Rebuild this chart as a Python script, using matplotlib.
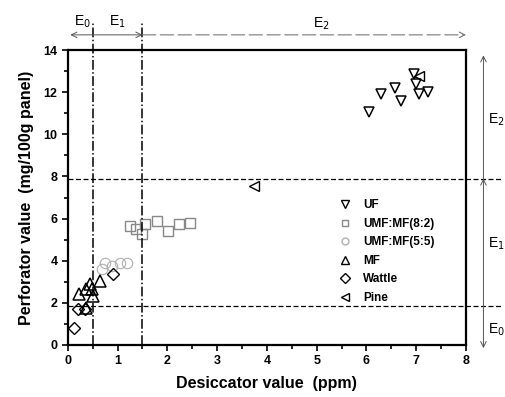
import matplotlib
matplotlib.use("Agg")
import matplotlib.pyplot as plt
from matplotlib.lines import Line2D

plt.rcParams['font.family'] = ['Liberation Sans', 'DejaVu Sans']

# data
uf_x = [6.05, 6.3, 6.57, 6.69, 6.96, 7.0, 7.06, 7.23]
uf_y = [11.05, 11.9, 12.2, 11.6, 12.85, 12.4, 11.9, 12.0]

umf82_x = [1.25, 1.37, 1.5, 1.55, 1.8, 2.02, 2.23, 2.45]
umf82_y = [5.65, 5.5, 5.25, 5.76, 5.9, 5.4, 5.73, 5.8]

umf55_x = [0.68, 0.74, 0.88, 1.05, 1.18]
umf55_y = [3.6, 3.9, 3.75, 3.9, 3.9]

mf_x = [0.23, 0.36, 0.44, 0.48, 0.51, 0.64, 0.36]
mf_y = [2.42, 2.64, 2.88, 2.64, 2.33, 3.04, 1.75]

wattle_x = [0.12, 0.21, 0.34, 0.91]
wattle_y = [0.82, 1.7, 1.7, 3.36]

pine_x = [3.75, 7.05]
pine_y = [7.55, 12.75]

names = ['UF', 'UMF:MF(8:2)', 'UMF:MF(5:5)', 'MF', 'Wattle', 'Pine']

x_bounds = [0.5, 1.5]
y_bounds = [1.85, 7.9]

fig = plt.figure(figsize=(5.06, 3.97), dpi=100)
ax = fig.add_axes([0.134, 0.131, 0.787, 0.743])

ms = 7.5
ax.plot(uf_x, uf_y, 'v', ms=ms, mfc='none', mec='black', mew=1.1, clip_on=False)
ax.plot(umf82_x, umf82_y, 's', ms=ms, mfc='none', mec='#888888', mew=1.0)
ax.plot(umf55_x, umf55_y, 'o', ms=ms, mfc='none', mec='#b0b0b0', mew=0.8)
ax.plot(mf_x, mf_y, '^', ms=ms + 1, mfc='none', mec='black', mew=1.1)
ax.plot(wattle_x, wattle_y, 'D', ms=ms - 1, mfc='none', mec='black', mew=1.0)
ax.plot(pine_x, pine_y, '<', ms=ms, mfc='none', mec='black', mew=1.0)

# boundary lines
for xv in x_bounds:
    ax.plot([xv, xv], [0, 15.3], color='black', ls='-.', lw=1.1, clip_on=False)
for yv in y_bounds:
    ax.plot([0, 8.7], [yv, yv], color='black', ls=(0, (4, 2)), lw=0.9, clip_on=False)

# top region arrows
ya = 14.72
arr = dict(arrowstyle='->', color='#555555', lw=0.7, shrinkA=0, shrinkB=0)
ax.annotate('', xy=(0.05, ya), xytext=(0.5, ya), arrowprops=arr, annotation_clip=False)
ax.annotate('', xy=(1.5, ya), xytext=(0.5, ya), arrowprops=arr, annotation_clip=False)
ax.annotate('', xy=(8.0, ya), xytext=(1.5, ya),
            arrowprops=dict(arrowstyle='->', color='#777777', lw=0.8, ls=(0, (12, 4)),
                            shrinkA=0, shrinkB=0), annotation_clip=False)
ax.text(0.3, 14.95, 'E$_0$', ha='center', va='bottom', fontsize=10)
ax.text(1.0, 14.95, 'E$_1$', ha='center', va='bottom', fontsize=10)
ax.text(5.1, 14.85, 'E$_2$', ha='center', va='bottom', fontsize=10)

# right region arrows
xa = 8.35
ax.annotate('', xy=(xa, 13.75), xytext=(xa, y_bounds[1]), arrowprops=arr, annotation_clip=False)
ax.annotate('', xy=(xa, y_bounds[1]), xytext=(xa, y_bounds[0]), arrowprops=arr, annotation_clip=False)
ax.annotate('', xy=(xa, -0.15), xytext=(xa, y_bounds[0]), arrowprops=arr, annotation_clip=False)
ax.text(8.45, 10.7, 'E$_2$', ha='left', va='center', fontsize=10)
ax.text(8.45, 4.8, 'E$_1$', ha='left', va='center', fontsize=10)
ax.text(8.45, 0.7, 'E$_0$', ha='left', va='center', fontsize=10)

ax.set_xlim(0, 8)
ax.set_ylim(0, 14)
ax.set_xticks(range(0, 9))
ax.set_xticks([i + 0.5 for i in range(8)], minor=True)
ax.set_yticks(range(0, 15, 2))
ax.set_yticks(range(1, 14, 2), minor=True)
ax.tick_params(which='both', direction='out', width=1.2)
ax.tick_params(which='major', length=4, labelsize=9)
ax.tick_params(which='minor', length=3)
for lab in ax.get_xticklabels() + ax.get_yticklabels():
    lab.set_fontweight('bold')
for sp in ax.spines.values():
    sp.set_linewidth(1.6)

ax.set_xlabel('Desiccator value  (ppm)', fontsize=11.5, fontweight='bold', labelpad=6)
ax.set_ylabel('Perforator value  (mg/100g panel)', fontsize=11.5, fontweight='bold', labelpad=7)

handles = [
    Line2D([], [], ls='none', marker='v', ms=6, mfc='none', mec='black'),
    Line2D([], [], ls='none', marker='s', ms=5, mfc='none', mec='#888888'),
    Line2D([], [], ls='none', marker='o', ms=5, mfc='none', mec='#b0b0b0'),
    Line2D([], [], ls='none', marker='^', ms=6, mfc='none', mec='black'),
    Line2D([], [], ls='none', marker='D', ms=5, mfc='none', mec='black'),
    Line2D([], [], ls='none', marker='<', ms=6, mfc='none', mec='black'),
]
leg = ax.legend(handles, names, loc='upper left', bbox_to_anchor=(0.64, 0.53),
                frameon=False, handletextpad=0.5, labelspacing=0.55,
                prop=dict(size=8.5, weight='bold'))

fig.savefig('out.png', dpi=100)
